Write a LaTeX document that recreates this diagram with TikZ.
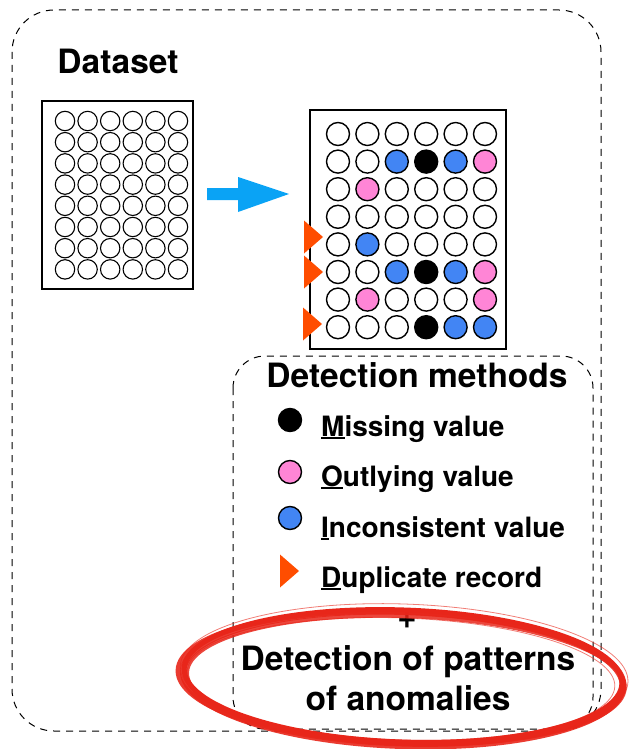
\documentclass[tikz,border=0pt]{standalone}
\usepackage{fontspec}
\setmainfont{TeX Gyre Heros}
\usetikzlibrary{calc}

\definecolor{cellblue}{HTML}{4285F4}
\definecolor{cellpink}{HTML}{FF85D6}
\definecolor{dupred}{HTML}{FF4D00}
\definecolor{flowblue}{HTML}{0AA3F5}
\definecolor{brushred}{HTML}{E8261A}

% underline the first letter with a thick bar
\newcommand\ulfirst[1]{\setbox0\hbox{#1}\rlap{\rule[-3pt]{\wd0}{2pt}}#1}

\begin{document}
\begin{tikzpicture}[x=1pt,y=-1pt,
  frame/.style={draw, dash pattern=on 7pt off 6pt, line width=1pt},
  sheet/.style={draw, line width=1.3pt, inner sep=0pt},
  rawcell/.style={circle, draw, line width=1.1pt, minimum size=19.4pt, inner sep=0pt},
  cell/.style={circle, draw, line width=1.4pt, minimum size=23pt, inner sep=0pt, fill=white},
  heading/.style={font=\fontsize{33.5}{38}\selectfont\bfseries, inner sep=0pt, anchor=base},
  item/.style={font=\fontsize{28}{32}\selectfont\bfseries, inner sep=0pt, anchor=base west},
  dupmark/.pic={\fill[dupred] (-19,-16.5) -- (0,0) -- (-19,16.5) -- cycle;},
]
\useasboundingbox (0,0) rectangle (631,749);

% outer frame
\draw[frame, rounded corners=42pt] (12,10) rectangle (601,731);

\node[heading] (dataset) at (118,74) {Dataset};

% raw data sheet
\node[sheet, minimum width=151pt, minimum height=188pt] (raw) at (117.5,195) {};
\foreach \r in {0,...,7}
  \foreach \c in {0,...,5}
    \node[rawcell] (raw-\r-\c) at ({65+22.6*\c},{121+21.2*\r}) {};

% flow arrow
\coordinate (flowtail) at (207,194);
\coordinate (flowtip) at (289,194);
\fill[flowblue] ($(flowtail)+(0,-6)$) -- ++(31,0) -- ++(0,-11) -- (flowtip)
  -- ($(flowtail)+(31,18)$) -- ++(0,-12) -- ($(flowtail)+(0,6)$) -- cycle;

% checked data sheet
\node[sheet, minimum width=196pt, minimum height=239pt] (checked) at (408,229.5) {};
\foreach \row [count=\r from 0] in {
  {white,white,white,white,white,white},
  {white,white,cellblue,black,cellblue,cellpink},
  {white,cellpink,white,white,white,white},
  {white,white,white,white,white,white},
  {white,cellblue,white,white,white,white},
  {white,white,cellblue,black,cellblue,cellpink},
  {white,cellpink,white,white,white,cellpink},
  {white,white,white,black,cellblue,cellblue}}
  \foreach \col [count=\c from 0] in \row
    \node[cell, fill=\col] (chk-\r-\c) at ({338+29.4*\c},{134+27.6*\r}) {};

% duplicate records
\pic (dup-a) at (323,237) {dupmark};
\pic (dup-b) at (323,272) {dupmark};
\pic (dup-c) at (322,324) {dupmark};

% legend frame
\draw[frame, rounded corners=32pt] (233,356) rectangle (593,729);
\node[heading] (methods) at (417,387) {Detection methods};

\node[cell, fill=black] (key-missing) at (290,420) {};
\node[cell, fill=cellpink] (key-outlying) at (290,472) {};
\node[cell, fill=cellblue] (key-inconsistent) at (290,518) {};
\pic (key-duplicate) at (299,571) {dupmark};

\node[item] (missing) at (321,436) {\ulfirst{M}issing value};
\node[item] (outlying) at (321,486) {\ulfirst{O}utlying value};
\node[item] (inconsistent) at (321,537) {\ulfirst{I}nconsistent value};
\node[item] (duplicate) at (321,587) {\ulfirst{D}uplicate record};

\node[font=\fontsize{33}{38}\selectfont\bfseries, inner sep=0pt] (plus) at (407,621) {+};
\node[heading] (patterns) at (408,670) {Detection of patterns};
\node[heading] (anomalies) at (408,710) {of anomalies};

% hand-drawn highlight ring: overlapping strokes give a brush band
\begin{scope}[brushred, rotate around={-2:(403,677)}]
  \draw[line width=5pt] (403,676) ellipse [x radius=219pt, y radius=66pt];
  \draw[line width=6pt, opacity=.9] (403,679) ellipse [x radius=220pt, y radius=67pt];
  \draw[line width=5pt, opacity=.9] (401,678) ellipse [x radius=223pt, y radius=66pt];
  \draw[line width=4pt, opacity=.85] (406,680) ellipse [x radius=219pt, y radius=64pt];
  \draw[line width=0.8pt, opacity=.6] (404,674) ellipse [x radius=224pt, y radius=70pt];
  \draw[line width=0.8pt, opacity=.6] (401,679) ellipse [x radius=214pt, y radius=61pt];
\end{scope}
\end{tikzpicture}
\end{document}
